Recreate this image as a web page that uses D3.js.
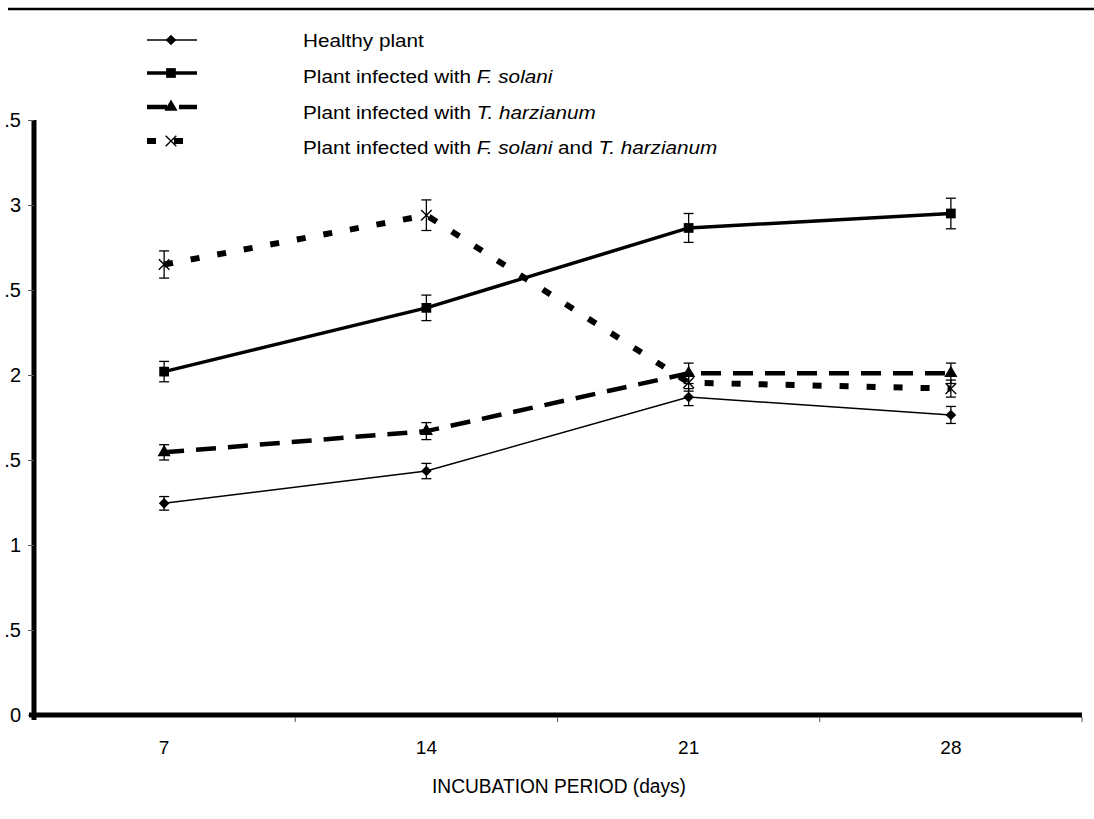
<!DOCTYPE html>
<html>
<head>
<meta charset="utf-8">
<script src="https://cdn.jsdelivr.net/npm/d3@7"></script>
<style>
  body { margin: 0; background: #fff; }
  svg { display: block; font-family: "Liberation Sans", Arial, sans-serif; }
</style>
</head>
<body>
<div id="grafico"></div>
<script>
// datos
const days = ['7', '14', '21', '28'];
const healthy = [1.245, 1.435, 1.87, 1.765];
const healthyErr = [0.04, 0.045, 0.05, 0.05];
const fSolani = [2.02, 2.395, 2.865, 2.95];
const fSolaniErr = [0.06, 0.075, 0.085, 0.09];
const tHarz = [1.545, 1.67, 2.01, 2.01];
const tHarzErr = [0.045, 0.05, 0.06, 0.06];
const both = [2.65, 2.94, 1.955, 1.92];
const bothErr = [0.08, 0.09, 0.05, 0.05];
const yTicks = [0, 0.5, 1, 1.5, 2, 2.5, 3, 3.5];
// etiquetas tal como se ven (el original esta recortado a la izquierda)
const yTickLabels = ['0', '.5', '1', '.5', '2', '.5', '3', '.5'];
const legendLabels = [
  [['Healthy plant', false]],
  [['Plant infected with ', false], ['F. solani', true]],
  [['Plant infected with ', false], ['T. harzianum', true]],
  [['Plant infected with ', false], ['F. solani', true], [' and ', false], ['T. harzianum', true]]
];

const series = [
  { values: healthy, errs: healthyErr, width: 1.5, dash: null, symbol: d3.symbolDiamond2, size: 72 },
  { values: fSolani, errs: fSolaniErr, width: 3.5, dash: null, symbol: d3.symbolSquare, size: 95 },
  { values: tHarz, errs: tHarzErr, width: 4.5, dash: '20,12', symbol: d3.symbolTriangle, size: 75 },
  { values: both, errs: bothErr, width: 6, dash: '9,18', symbol: d3.symbolX, size: 75 }
];

const W = 1094, H = 819;
const svg = d3.select('#grafico').append('svg')
  .attr('width', W)
  .attr('height', H);

// linea superior
svg.append('line')
  .attr('x1', 8).attr('x2', W)
  .attr('y1', 9).attr('y2', 9)
  .attr('stroke', '#000')
  .attr('stroke-width', 2.5);

const x = d3.scaleBand()
  .domain(days)
  .range([33, 1082]);

const y = d3.scaleLinear()
  .domain([0, 3.5])
  .range([715, 120]);

const cx = d => x(d) + x.bandwidth() / 2;

const yAxis = svg.append('g')
  .attr('transform', 'translate(34,0)')
  .call(d3.axisLeft(y).tickValues(yTicks).tickSize(6).tickSizeOuter(0).tickPadding(7)
    .tickFormat((d, i) => yTickLabels[i]));
yAxis.select('.domain').attr('stroke-width', 5).attr('d', 'M0,720V120');
yAxis.selectAll('.tick line').attr('stroke', '#555').attr('stroke-width', 1);
yAxis.selectAll('.tick text')
  .style('font-size', '20px')
  .attr('fill', '#000');

const xAxis = svg.append('g')
  .attr('transform', 'translate(0,715)')
  .call(d3.axisBottom(x).tickSize(0).tickSizeOuter(0).tickPadding(26));
xAxis.select('.domain').attr('stroke-width', 5).attr('d', 'M29,0H1082');
xAxis.selectAll('.tick text')
  .style('font-size', '19px')
  .attr('fill', '#000');

// marcas entre categorias
const bordes = days.slice(1).map(d => x(d)).concat([x.range()[1]]);
xAxis.selectAll('.borde')
  .data(bordes)
  .enter().append('line')
  .attr('class', 'borde')
  .attr('x1', d => d).attr('x2', d => d)
  .attr('y1', 2).attr('y2', 7)
  .attr('stroke', '#555')
  .attr('stroke-width', 1);

svg.append('text')
  .attr('x', 559)
  .attr('y', 793)
  .attr('text-anchor', 'middle')
  .attr('textLength', 254)
  .attr('lengthAdjust', 'spacingAndGlyphs')
  .style('font-size', '20px')
  .text('INCUBATION PERIOD (days)');

// lineas
const linea = d3.line()
  .x((v, i) => cx(days[i]))
  .y(v => y(v));

series.forEach(s => {
  svg.append('path')
    .datum(s.values)
    .attr('d', linea)
    .attr('fill', 'none')
    .attr('stroke', '#000')
    .attr('stroke-width', s.width)
    .attr('stroke-dasharray', s.dash);
});

// barras de error
series.forEach(s => {
  const g = svg.append('g').attr('stroke', '#000').attr('stroke-width', 1.3);
  s.values.forEach((v, i) => {
    const px = cx(days[i]);
    const top = y(v + s.errs[i]), bot = y(v - s.errs[i]);
    g.append('line').attr('x1', px).attr('x2', px).attr('y1', top).attr('y2', bot);
    g.append('line').attr('x1', px - 5).attr('x2', px + 5).attr('y1', top).attr('y2', top);
    g.append('line').attr('x1', px - 5).attr('x2', px + 5).attr('y1', bot).attr('y2', bot);
  });
});

// marcadores
function marcador(sel, s) {
  const p = sel.append('path')
    .attr('d', d3.symbol().type(s.symbol).size(s.size)());
  if (s.symbol === d3.symbolX) {
    p.attr('fill', 'none').attr('stroke', '#000').attr('stroke-width', 1.4);
  } else {
    p.attr('fill', '#000');
  }
  return p;
}

series.forEach(s => {
  s.values.forEach((v, i) => {
    marcador(svg, s).attr('transform', `translate(${cx(days[i])},${y(v)})`);
  });
});

// leyenda
const legendSymY = [40, 73, 107, 141];
const legendTextY = [47, 83, 119, 154];
series.forEach((s, i) => {
  svg.append('line')
    .attr('x1', 147).attr('x2', 197)
    .attr('y1', legendSymY[i]).attr('y2', legendSymY[i])
    .attr('stroke', '#000')
    .attr('stroke-width', s.width)
    .attr('stroke-dasharray', s.dash);
  marcador(svg, s).attr('transform', `translate(171,${legendSymY[i]})`);

  const t = svg.append('text')
    .attr('transform', `translate(303,${legendTextY[i]}) scale(1.12,1)`)
    .style('font-size', '18.5px');
  legendLabels[i].forEach(([txt, it]) => {
    t.append('tspan')
      .style('font-style', it ? 'italic' : 'normal')
      .text(txt);
  });
});
</script>
</body>
</html>
